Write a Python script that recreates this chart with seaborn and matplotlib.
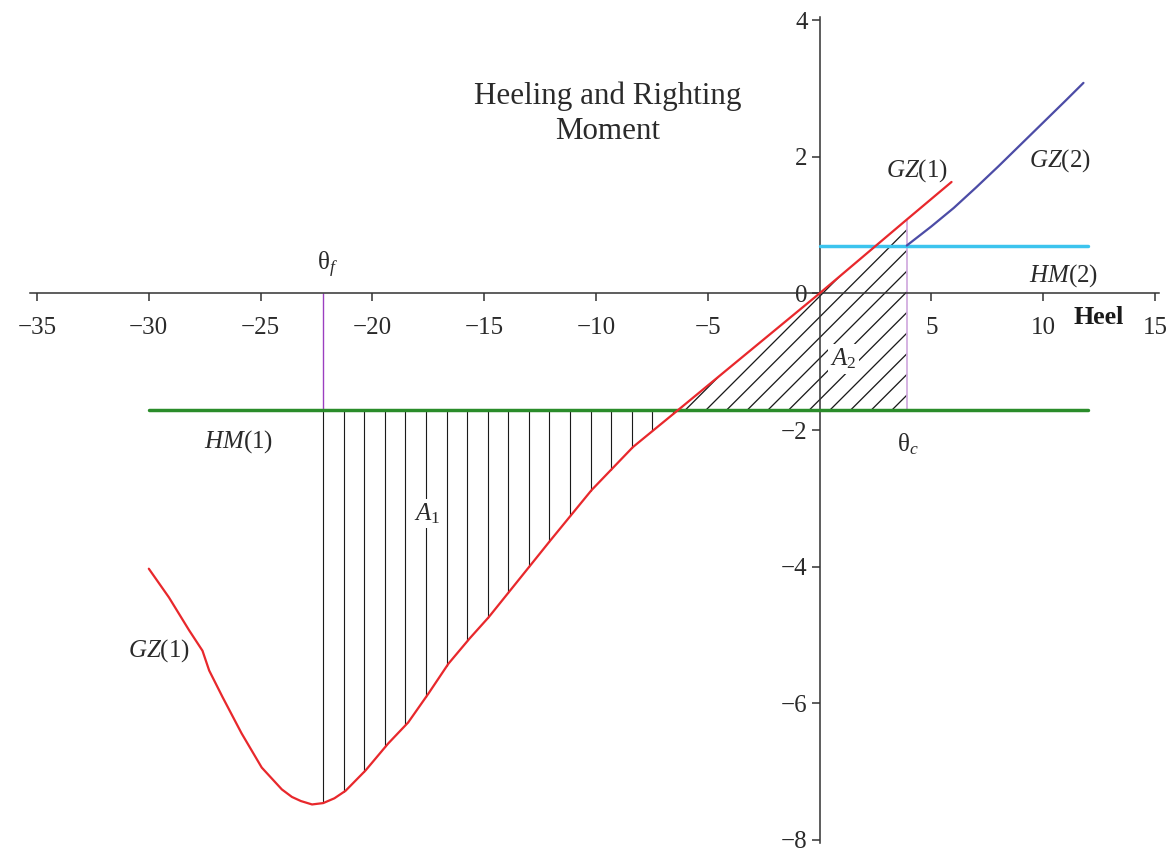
import numpy as np
import pandas as pd
import seaborn as sns
import matplotlib.pyplot as plt

# GZ(1) righting arm curve
gz1_heel = [-30.0, -29.1, -28.2, -27.6, -27.3, -26.7, -25.85, -24.95, -24.05, -23.6,
            -23.2, -22.7, -22.2, -21.7, -21.2, -20.3, -19.3, -18.4, -17.5, -16.6,
            -15.65, -14.8, -13.4, -12.05, -10.2, -8.35, -6.3, 0.0, 3.9, 5.9]
gz1_arm = [-4.03, -4.45, -4.93, -5.23, -5.52, -5.91, -6.44, -6.94, -7.26, -7.37,
           -7.43, -7.48, -7.46, -7.39, -7.28, -6.98, -6.59, -6.28, -5.86, -5.42,
           -5.05, -4.74, -4.17, -3.62, -2.88, -2.25, -1.70, 0.0, 1.08, 1.63]

# GZ(2) righting arm curve
gz2_heel = [3.9, 5.0, 6.0, 7.0, 8.0, 9.0, 10.0, 11.0, 11.8]
gz2_arm = [0.70, 0.98, 1.25, 1.55, 1.86, 2.18, 2.50, 2.82, 3.08]

# heeling moments
hm1_heel = [-30.0, 12.0]
hm1_arm = [-1.70, -1.70]
hm2_heel = [0.0, 12.0]
hm2_arm = [0.70, 0.70]

theta_f = -22.2
theta_c = 3.9
heel_cross = -6.3   # where GZ(1) meets HM(1)
a1_step = 0.92      # spacing of the vertical hatch in A1

x_ticks = [-35, -30, -25, -20, -15, -10, -5, 5, 10, 15]
y_ticks = [-8, -6, -4, -2, 0, 2, 4]

DPI = 124
sns.set_style('white')
plt.rcParams['font.family'] = ['Liberation Serif', 'DejaVu Serif']
plt.rcParams['mathtext.fontset'] = 'custom'
plt.rcParams['mathtext.rm'] = 'Liberation Serif'
plt.rcParams['mathtext.it'] = 'Liberation Serif:italic'
plt.rcParams['mathtext.bf'] = 'Liberation Serif:bold'
plt.rcParams['hatch.linewidth'] = 0.75
plt.rcParams['hatch.color'] = '#1a1a1a'

fig = plt.figure(figsize=(1170 / DPI, 852 / DPI), dpi=DPI)
ax = fig.add_axes([0.0259, 0.0101, 0.9651, 0.9704])

gz1 = pd.DataFrame({'heel': gz1_heel, 'arm': gz1_arm})
gz2 = pd.DataFrame({'heel': gz2_heel, 'arm': gz2_arm})

# area A1: vertical hatch from theta_f to the crossing
xs = np.arange(theta_f, heel_cross, a1_step)
bottoms = np.interp(xs, gz1_heel, gz1_arm)
ax.vlines(xs, bottoms, hm1_arm[0], colors='#1a1a1a', lw=0.65, zorder=2)

# area A2: diagonal hatch between HM(1) and GZ(1)
h = np.array(gz1_heel)
a = np.array(gz1_arm)
m = (h >= heel_cross) & (h <= theta_c)
ax.fill_between(h[m], hm1_arm[0], a[m], facecolor='none', edgecolor='#1a1a1a',
                hatch='//', linewidth=0, zorder=1)

# theta lines
ax.vlines(theta_f, hm1_arm[0], 0, colors='#9b3fc0', lw=0.8, zorder=2)
ax.vlines(theta_c, hm1_arm[0], np.interp(theta_c, gz1_heel, gz1_arm),
          colors='#d0a8de', lw=1.0, zorder=2)

sns.lineplot(x=hm1_heel, y=hm1_arm, ax=ax, color='#2a8c2a', lw=2.0, zorder=3)
sns.lineplot(x=hm2_heel, y=hm2_arm, ax=ax, color='#3cc4ee', lw=2.0, zorder=3)
sns.lineplot(data=gz2, x='heel', y='arm', ax=ax, color='#4c4ca6', lw=1.3,
             estimator=None, zorder=4)
sns.lineplot(data=gz1, x='heel', y='arm', ax=ax, color='#e8282c', lw=1.3,
             estimator=None, zorder=4)

# axes through the origin
ax.set_xlim(-35.3, 15.2)
ax.set_ylim(-8.05, 4.05)
ax.set_xlabel('')
ax.set_ylabel('')
for s in ['top', 'right']:
    ax.spines[s].set_visible(False)
ax.spines['left'].set_position(('data', 0))
ax.spines['bottom'].set_position(('data', 0))
for s in ['left', 'bottom']:
    ax.spines[s].set_color('#333333')
    ax.spines[s].set_linewidth(0.9)
ax.set_xticks(x_ticks)
ax.set_yticks(y_ticks)
ax.tick_params(bottom=True, left=True, direction='out', length=4.5, width=0.9,
               color='#333333', labelsize=14.5, labelcolor='#2a2a2a')
ax.tick_params(axis='x', pad=9)
ax.tick_params(axis='y', pad=2.5)

txt = dict(fontsize=14.5, color='#2a2a2a', ha='center', va='center', zorder=5)
ax.text(-9.48, 2.63, 'Heeling and Righting\nMoment', fontsize=18, color='#2a2a2a',
        ha='center', va='center', linespacing=1.3)
ax.text(4.34, 1.80, '$GZ$(1)', **txt)
ax.text(10.74, 1.95, '$GZ$(2)', **txt)
ax.text(10.93, 0.26, '$HM$(2)', **txt)
ax.text(-26.0, -2.17, '$HM$(1)', **txt)
ax.text(-29.54, -5.23, '$GZ$(1)', **txt)
ax.text(12.5, -0.35, 'Heel', fontweight='bold', fontsize=15, color='#1a1a1a',
        ha='center', va='center')
ax.text(-22.0, 0.41, 'θ$_f$', **txt)
ax.text(3.94, -2.21, 'θ$_c$', **txt)
box = dict(facecolor='white', edgecolor='none', pad=1.5)
ax.text(-17.55, -3.22, '$A_1$', bbox=box, **txt)
ax.text(1.06, -0.96, '$A_2$', bbox=box, **txt)

fig.savefig('out.png', dpi=DPI)
